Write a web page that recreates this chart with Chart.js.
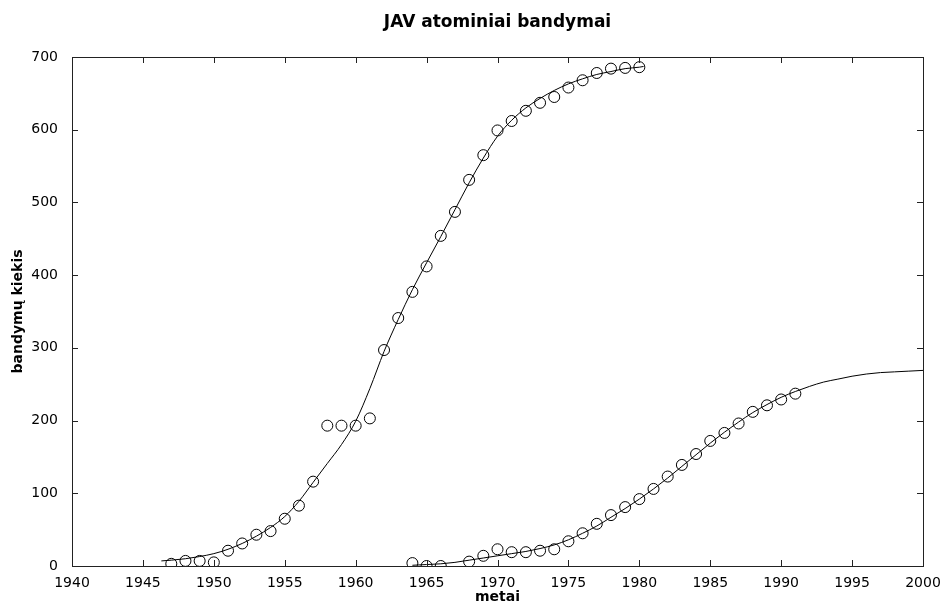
<!DOCTYPE html>
<html>
<head>
<meta charset="utf-8">
<script src="https://cdn.jsdelivr.net/npm/chart.js@4"></script>
<style>
  html, body { margin: 0; padding: 0; background: #fff; }
  canvas { display: block; }
</style>
</head>
<body>
<canvas id="myCanvas" width="943" height="604"></canvas>
<script>
// JAV atominiai bandymai: yearly counts and fitted curves
const years1 = [1947,1948,1949,1950,1951,1952,1953,1954,1955,1956,1957,1958,1959,1960,1961,1962,1963,1964,1965,1966,1967,1968,1969,1970,1971,1972,1973,1974,1975,1976,1977,1978,1979,1980];
const tests1 = [3,7,7,5,21,31,43,48,65,83,116,193,193,193,203,297,341,377,412,454,487,531,565,599,612,626,637,645,658,668,678,684,685,686];

const fitYears1 = [1946.3,1947,1948,1949,1950,1951,1952,1953,1954,1955,1956,1957,1958,1959,1960,1961,1962,1963,1964,1965,1966,1967,1968,1969,1970,1971,1972,1973,1974,1975,1976,1977,1978,1979,1980,1980.3];
const fit1 = [7,8,10,13,17,23,31,41,53,68,89,115,141,167,199,244,295,339,380,417,453,490,527,561,591,613,630,643,654,663,670,676,680,684,686,687];

const years2 = [1964,1965,1966,1968,1969,1970,1971,1972,1973,1974,1975,1976,1977,1978,1979,1980,1981,1982,1983,1984,1985,1986,1987,1988,1989,1990,1991];
const tests2 = [4,0,0,6,14,23,19,19,21,23,34,45,58,70,81,92,106,123,139,154,172,183,196,212,221,229,237];

const fitYears2 = [1964,1965,1966,1967,1968,1969,1970,1971,1972,1973,1974,1975,1976,1977,1978,1979,1980,1981,1982,1983,1984,1985,1986,1987,1988,1989,1990,1991,1992,1993,1994,1995,1996,1997,1998,1999,2000];
const fit2 = [1,2,3,5,8,11,14,17,20,24,29,36,45,55,67,79,92,106,121,137,153,169,184,198,211,222,232,240,247,253,257,261,264,266,267,268,269];

const xTicks = [1940,1945,1950,1955,1960,1965,1970,1975,1980,1985,1990,1995,2000];
const yTicks = [0,100,200,300,400,500,600,700];

const FONT = "'DejaVu Sans', sans-serif";

const toPoints = (xs, ys) => xs.map((x, i) => ({ x: x, y: ys[i] }));

const markers = (data) => ({
  type: 'scatter',
  data: data,
  showLine: false,
  pointStyle: 'circle',
  pointRadius: 5.5,
  pointBorderWidth: 1,
  pointBorderColor: '#000',
  pointBackgroundColor: 'rgba(0,0,0,0)'
});

const curve = (data) => ({
  type: 'scatter',
  data: data,
  showLine: true,
  borderColor: '#000',
  borderWidth: 1,
  pointRadius: 0,
  cubicInterpolationMode: 'monotone'
});

// box around the plot with inward ticks on every side, plus the title
const matlabFrame = {
  id: 'matlabFrame',
  afterDraw(chart) {
    const { ctx, chartArea: a, scales } = chart;
    const len = 6;
    ctx.save();
    ctx.strokeStyle = '#222';
    ctx.lineWidth = 1;
    ctx.strokeRect(a.left + 0.5, a.top + 0.5, a.right - a.left, a.bottom - a.top);
    ctx.beginPath();
    xTicks.forEach(v => {
      const px = Math.round(scales.x.getPixelForValue(v)) + 0.5;
      ctx.moveTo(px, a.bottom); ctx.lineTo(px, a.bottom - len);
      ctx.moveTo(px, a.top); ctx.lineTo(px, a.top + len);
    });
    yTicks.forEach(v => {
      const py = Math.round(scales.y.getPixelForValue(v)) + 0.5;
      ctx.moveTo(a.left, py); ctx.lineTo(a.left + len, py);
      ctx.moveTo(a.right, py); ctx.lineTo(a.right - len, py);
    });
    ctx.stroke();

    ctx.fillStyle = '#000';
    ctx.font = 'bold 17px ' + FONT;
    ctx.textAlign = 'center';
    ctx.textBaseline = 'middle';
    ctx.fillText('JAV atominiai bandymai', (a.left + a.right) / 2, 23);
    ctx.restore();
  }
};

const ctx = document.getElementById('myCanvas').getContext('2d');
new Chart(ctx, {
  type: 'scatter',
  data: {
    datasets: [
      curve(toPoints(fitYears1, fit1)),
      markers(toPoints(years1, tests1)),
      curve(toPoints(fitYears2, fit2)),
      markers(toPoints(years2, tests2))
    ]
  },
  options: {
    responsive: false,
    animation: false,
    layout: { padding: { top: 57, right: 20, left: 0, bottom: 0 } },
    plugins: {
      legend: { display: false },
      tooltip: { enabled: false },
      title: { display: false }
    },
    scales: {
      x: {
        type: 'linear',
        min: 1940,
        max: 2000,
        afterFit: (s) => { s.height = 38; s.paddingLeft = 0; s.paddingRight = 0; },
        afterBuildTicks: (s) => { s.ticks = xTicks.map(v => ({ value: v })); },
        grid: { display: false },
        border: { display: false },
        ticks: {
          color: '#000',
          padding: 1,
          maxRotation: 0,
          font: { family: FONT, size: 14 },
          callback: (v) => String(v)
        },
        title: {
          display: true,
          text: 'metai',
          color: '#000',
          font: { family: FONT, size: 14, weight: 'bold' },
          padding: { top: 0, bottom: -2 }
        }
      },
      y: {
        min: 0,
        max: 700,
        afterFit: (s) => { s.width = 72; s.paddingTop = 0; s.paddingBottom = 0; },
        afterBuildTicks: (s) => { s.ticks = yTicks.map(v => ({ value: v })); },
        grid: { display: false },
        border: { display: false },
        ticks: {
          color: '#000',
          padding: 6,
          font: { family: FONT, size: 14 },
          callback: (v) => String(v)
        },
        title: {
          display: true,
          text: 'bandymų kiekis',
          color: '#000',
          font: { family: FONT, size: 14, weight: 'bold' },
          padding: { top: 10, bottom: 0 }
        }
      }
    }
  },
  plugins: [matlabFrame]
});
</script>
</body>
</html>
